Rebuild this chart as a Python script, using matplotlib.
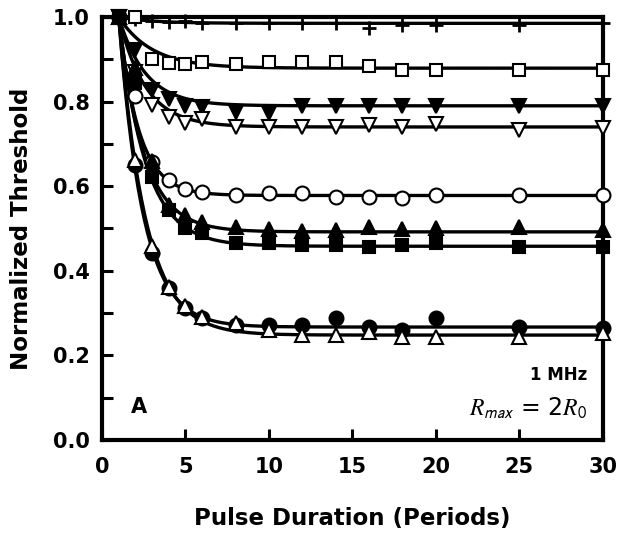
import matplotlib
matplotlib.use("Agg")
import matplotlib.pyplot as plt
import numpy as np

plt.rcParams['font.family'] = ['DejaVu Sans']
plt.rcParams['mathtext.fontset'] = 'stix'

# pulse duration (periods)
periods = [1, 2, 3, 4, 5, 6, 8, 10, 12, 14, 16, 18, 20, 25, 30]

# normalized threshold, one list per series
plus_vals = [1.0, 0.995, 0.99, 0.989, 0.99, 0.985, 0.985, 0.985, 0.985, 0.985, 0.973, 0.981, 0.981, 0.981, 0.985]
open_square = [1.0, 0.999, 0.900, 0.892, 0.888, 0.893, 0.890, 0.894, 0.894, 0.894, 0.885, 0.875, 0.875, 0.875, 0.875]
filled_down = [1.0, 0.922, 0.827, 0.806, 0.789, 0.788, 0.776, 0.773, 0.79, 0.79, 0.79, 0.79, 0.79, 0.79, 0.79]
open_down = [1.0, 0.87, 0.792, 0.764, 0.75, 0.758, 0.74, 0.74, 0.74, 0.74, 0.745, 0.741, 0.747, 0.733, 0.737]
open_circle = [1.0, 0.813, 0.658, 0.615, 0.594, 0.586, 0.579, 0.585, 0.585, 0.575, 0.575, 0.572, 0.58, 0.58, 0.58]
filled_up = [1.0, 0.88, 0.66, 0.556, 0.532, 0.516, 0.504, 0.498, 0.494, 0.496, 0.504, 0.498, 0.50, 0.504, 0.496]
filled_square = [1.0, 0.845, 0.622, 0.544, 0.501, 0.489, 0.466, 0.466, 0.461, 0.461, 0.457, 0.461, 0.466, 0.457, 0.457]
filled_circle = [1.0, 0.650, 0.443, 0.359, 0.312, 0.288, 0.272, 0.272, 0.272, 0.288, 0.268, 0.26, 0.288, 0.268, 0.264]
open_up = [1.0, 0.662, 0.459, 0.361, 0.317, 0.291, 0.277, 0.26, 0.248, 0.248, 0.256, 0.244, 0.244, 0.244, 0.252]

# fitted curves: plateau and decay constant
fit_plateau = [0.985, 0.879, 0.79, 0.74, 0.578, 0.492, 0.458, 0.267, 0.248]
fit_tau = [2.0, 2.0, 1.6, 1.6, 1.2, 1.5, 1.6, 1.45, 1.6]

series = [plus_vals, open_square, filled_down, open_down, open_circle,
          filled_up, filled_square, filled_circle, open_up]
styles = [('+', 'k', 10), ('s', 'white', 8.5), ('v', 'k', 10), ('v', 'white', 10),
          ('o', 'white', 10), ('^', 'k', 10), ('s', 'k', 8.5), ('o', 'k', 10), ('^', 'white', 10)]

fig = plt.figure(figsize=(6.24, 5.39), dpi=100)
ax = fig.add_axes([0.1635, 0.1837, 0.8025, 0.7848])

xs = np.linspace(1, 30, 300)
for vals, a, tau, (m, fc, ms) in zip(series, fit_plateau, fit_tau, styles):
    ax.plot(xs, a + (1 - a) * np.exp(-(xs - 1) / tau), color='k', lw=2.4, zorder=2)
    if m == '+':
        ax.plot(periods, vals, ls='none', marker=m, ms=ms, mew=2, color='k',
                clip_on=False, zorder=3)
    else:
        ax.plot(periods, vals, ls='none', marker=m, ms=ms, mfc=fc, mec='k',
                mew=1.5, clip_on=False, zorder=3)

# the shared starting point shows as a solid dot
ax.plot(periods[:1], filled_circle[:1], ls='none', marker='o', ms=10, color='k',
        clip_on=False, zorder=4)

ax.set_xlim(0, 30)
ax.set_ylim(0, 1.0)
ax.set_xticks([0, 5, 10, 15, 20, 25, 30])
ax.set_yticks([0.0, 0.2, 0.4, 0.6, 0.8, 1.0])
ax.set_yticks(np.arange(0.1, 1.0, 0.2), minor=True)
ax.set_yticklabels(['0.0', '0.2', '0.4', '0.6', '0.8', '1.0'])
ax.tick_params(axis='both', which='major', direction='in', length=8, width=2.2,
               labelsize=15, pad=9)
ax.tick_params(axis='y', which='minor', direction='in', length=8, width=2.2)
ax.tick_params(axis='x', which='major', pad=12)
for lab in ax.get_xticklabels() + ax.get_yticklabels():
    lab.set_fontweight('bold')

for s in ax.spines.values():
    s.set_linewidth(3)

ax.set_xlabel('Pulse Duration (Periods)', fontsize=16.5, fontweight='bold')
ax.xaxis.set_label_coords(0.5, -0.185)
ax.xaxis.label.set_va('center')
ax.set_ylabel('Normalized Threshold', fontsize=16.5, fontweight='bold')
ax.yaxis.set_label_coords(-0.16, 0.5)
ax.yaxis.label.set_va('center')

ax.text(1.7, 0.064, 'A', fontsize=15, fontweight='bold')
ax.text(29.05, 0.154, '1 MHz', fontsize=12, fontweight='bold', ha='right', va='center')
ax.text(29.05, 0.057, r'$R_{\mathsf{max}}$ = 2$R_{\mathsf{0}}$', fontsize=17, ha='right')

fig.savefig('out.png', dpi=100)
